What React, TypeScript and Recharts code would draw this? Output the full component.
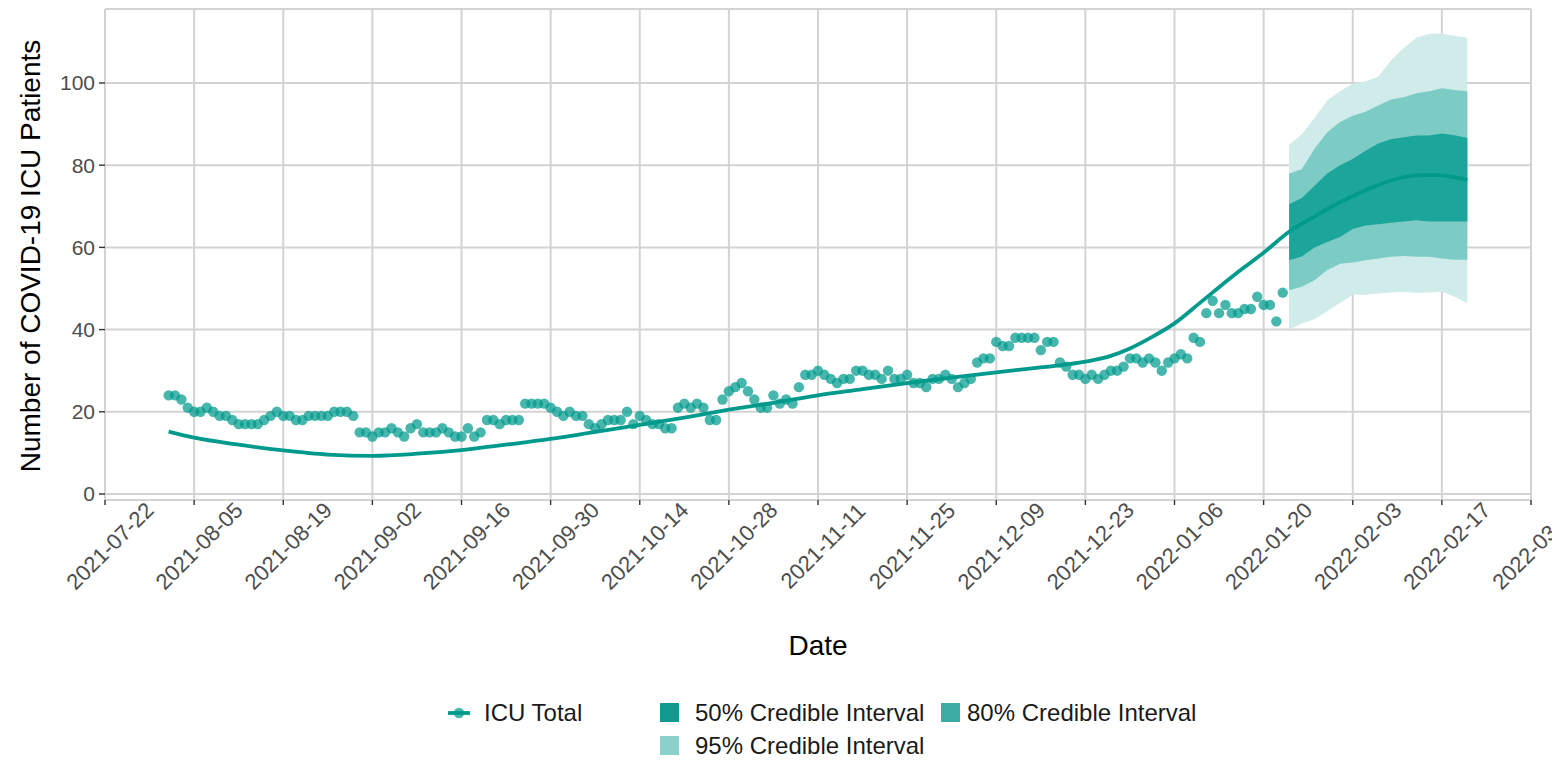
import React from 'react';
import { ComposedChart, Line, Area, Scatter, XAxis, YAxis, CartesianGrid } from 'recharts';

const ORIGIN = '2021-07-22';
const dayOf = (s: string) => Math.round((Date.parse(s) - Date.parse(ORIGIN)) / 86400000);

// x-axis tick labels
const xTickLabels = [
  '2021-07-22', '2021-08-05', '2021-08-19', '2021-09-02', '2021-09-16', '2021-09-30',
  '2021-10-14', '2021-10-28', '2021-11-11', '2021-11-25', '2021-12-09', '2021-12-23',
  '2022-01-06', '2022-01-20', '2022-02-03', '2022-02-17', '2022-03-03',
];
const yTicks = [0, 20, 40, 60, 80, 100];

// Observed daily ICU totals, one value per day starting on icuStartDate
const icuStartDate = '2021-08-01';
const icuTotal = [
  24, 24, 23, 21, 20, 20, 21, 20, 19, 19, 18, 17, 17, 17, 17, 18, 19, 20, 19, 19,
  18, 18, 19, 19, 19, 19, 20, 20, 20, 19,
  15, 15, 14, 15, 15, 16, 15, 14, 16, 17, 15, 15, 15, 16, 15, 14,
  14, 16, 14, 15, 18, 18, 17, 18, 18, 18, 22, 22, 22, 22, 21, 20, 19, 20, 19, 19,
  17, 16, 17, 18, 18, 18, 20, 17, 19, 18, 17, 17, 16, 16, 21, 22, 21, 22, 21, 18,
  18, 23, 25, 26, 27, 25,
  23, 21, 21, 24, 22, 23, 22, 26, 29, 29, 30, 29, 28, 27, 28, 28, 30, 30, 29, 29,
  28, 30, 28, 28, 29, 27, 27, 26, 28, 28, 29, 28, 26, 27, 28, 32, 33, 33, 37, 36,
  36, 38,
  38, 38, 38, 35, 37, 37,
  32, 31, 29, 29, 28, 29, 28, 29, 30, 30, 31, 33, 33, 32, 33, 32, 30, 32, 33, 34,
  33, 38, 37, 44, 47, 44, 46, 44, 44, 45, 45, 48, 46, 46, 42, 49,
];

// Fitted / median curve
const fitDates = [
  '2021-08-01', '2021-08-05', '2021-08-12', '2021-08-19', '2021-08-26', '2021-09-02',
  '2021-09-09', '2021-09-16', '2021-09-23', '2021-09-30', '2021-10-07', '2021-10-14',
  '2021-10-21', '2021-10-28', '2021-11-04', '2021-11-11', '2021-11-18', '2021-11-25',
  '2021-12-02', '2021-12-09', '2021-12-16', '2021-12-23', '2021-12-27', '2021-12-30',
  '2022-01-02', '2022-01-06', '2022-01-10', '2022-01-13', '2022-01-17', '2022-01-20',
  '2022-01-24', '2022-01-28', '2022-01-31', '2022-02-03', '2022-02-07', '2022-02-10',
  '2022-02-13', '2022-02-16', '2022-02-19', '2022-02-21',
];
const fitValues = [
  15.2, 13.7, 12.0, 10.6, 9.6, 9.3, 9.8, 10.7, 12.0, 13.4, 15.1, 16.8, 18.6, 20.5,
  22.2, 24.0, 25.5, 27.0, 28.3, 29.6, 30.8, 32.2, 33.6, 35.4, 37.8, 41.5, 46.5, 50.3,
  55.2, 58.7, 63.8, 67.5, 70.2, 72.5, 75.2, 76.7, 77.5, 77.6, 77.1, 76.4,
];

// Forecast credible intervals
const bandDates = [
  '2022-01-24', '2022-01-26', '2022-01-28', '2022-01-30', '2022-02-01', '2022-02-03',
  '2022-02-05', '2022-02-07', '2022-02-09', '2022-02-11', '2022-02-13', '2022-02-15',
  '2022-02-17', '2022-02-19', '2022-02-21',
];
const ci95Low = [40, 41.5, 42.5, 44.5, 46.5, 48.5, 48.5, 48.8, 49, 49.2, 48.9, 49, 49.2, 48, 46.5];
const ci95High = [85, 87.5, 91.5, 95.8, 98, 99.8, 100.4, 101.5, 105.5, 108.5, 111, 112, 112, 111.5, 111];
const ci80Low = [49.6, 50.4, 52, 54.5, 56, 56.3, 56.9, 57.3, 57.7, 57.9, 57.7, 57.7, 57.3, 57, 57];
const ci80High = [78, 79, 84, 88, 90.5, 92, 93, 94.5, 96, 96.5, 97.5, 98, 98.7, 98.3, 98];
const ci50Low = [56.9, 57.8, 60, 61.3, 62.5, 64.5, 65.3, 65.6, 66, 66.3, 66.6, 66.3, 66.3, 66.3, 66.3];
const ci50High = [70.5, 72, 75, 78, 80, 81.5, 83.5, 85.3, 86.3, 86.8, 87.2, 87.2, 87.7, 87.3, 86.6];

const TEAL = '#009a8c';
const FONT = '"Liberation Sans", Arial, Helvetica, sans-serif';

const icuStart = dayOf(icuStartDate);
const icuData = icuTotal.map((v, i) => ({ day: icuStart + i, icu: v }));

const rows: Record<number, any> = {};
const row = (d: number) => (rows[d] = rows[d] || { day: d });
fitDates.forEach((s, i) => { row(dayOf(s)).fit = fitValues[i]; });
bandDates.forEach((s, i) => {
  const r = row(dayOf(s));
  r.ci95 = [ci95Low[i], ci95High[i]];
  r.ci80 = [ci80Low[i], ci80High[i]];
  r.ci50 = [ci50Low[i], ci50High[i]];
});
const lineData = Object.values(rows).sort((a: any, b: any) => a.day - b.day);
const xTicks = xTickLabels.map(dayOf);

const XTick = (props: any) => {
  const { x, y, payload } = props;
  const label = xTickLabels[xTicks.indexOf(payload.value)] ?? '';
  return (
    <text
      transform={`translate(${x + 5},${y + 41}) rotate(-45)`}
      textAnchor="middle"
      dominantBaseline="central"
      fontSize={22}
      fontFamily={FONT}
      fill="#4D4D4D"
    >
      {label}
    </text>
  );
};

const Dot = (props: any) => {
  const { cx, cy } = props;
  if (cx == null || cy == null) return null;
  return <circle cx={cx} cy={cy} r={5.2} fill={TEAL} fillOpacity={0.72} />;
};

export default function App() {
  return (
    <div style={{ position: 'absolute', left: 0, top: 0, width: 1552, height: 762, background: '#fff' }}>
      <ComposedChart
        width={1552}
        height={762}
        data={lineData}
        margin={{ top: 9, right: 21, left: 0, bottom: 0 }}
      >
        <CartesianGrid stroke="#D3D3D3" strokeWidth={2} />
        <XAxis
          dataKey="day"
          type="number"
          domain={[0, 224]}
          ticks={xTicks}
          allowDataOverflow
          height={262}
          axisLine={false}
          tickLine={{ stroke: '#333333', strokeWidth: 1.4 }}
          tickSize={5}
          tickMargin={0}
          tick={<XTick />}
          interval={0}
        />
        <YAxis
          type="number"
          domain={[-1.46, 118]}
          ticks={yTicks}
          allowDataOverflow
          width={105}
          axisLine={false}
          tickLine={{ stroke: '#333333', strokeWidth: 1.4 }}
          tickSize={6}
          tickMargin={4}
          tick={{ fontSize: 21, fill: '#4D4D4D', fontFamily: FONT }}
        />
        <Area dataKey="ci95" type="linear" fill="#CFECEA" fillOpacity={1} stroke="none" connectNulls isAnimationActive={false} />
        <Area dataKey="ci80" type="linear" fill="#7CCBC5" fillOpacity={1} stroke="none" connectNulls isAnimationActive={false} />
        <Area dataKey="ci50" type="linear" fill="#1CA59B" fillOpacity={1} stroke="none" connectNulls isAnimationActive={false} />
        <Line dataKey="fit" type="monotone" stroke={TEAL} strokeWidth={3.8} dot={false} connectNulls isAnimationActive={false} />
        <Scatter data={icuData} dataKey="icu" shape={<Dot />} isAnimationActive={false} />
      </ComposedChart>
      <svg width={1552} height={762} style={{ position: 'absolute', left: 0, top: 0, pointerEvents: 'none' }}>
        <g fontFamily={FONT}>
          <text x={818} y={655} textAnchor="middle" fontSize={28} fill="#000">Date</text>
          <text transform="translate(40,256) rotate(-90)" textAnchor="middle" fontSize={28} fill="#000">
            Number of COVID-19 ICU Patients
          </text>
          <line x1={448} y1={713} x2={470} y2={713} stroke={TEAL} strokeWidth={3.8} />
          <circle cx={459} cy={713} r={5.2} fill={TEAL} fillOpacity={0.72} />
          <text x={484} y={721} fontSize={24} fill="#1a1a1a">ICU Total</text>
          <rect x={660} y={703} width={19} height={19} fill="#139A90" />
          <text x={695} y={721} fontSize={24} fill="#1a1a1a">50% Credible Interval</text>
          <rect x={941} y={703} width={19} height={19} fill="#3BACA4" />
          <text x={967} y={721} fontSize={24} fill="#1a1a1a">80% Credible Interval</text>
          <rect x={660} y={736} width={19} height={19} fill="#8AD1CC" />
          <text x={695} y={754} fontSize={24} fill="#1a1a1a">95% Credible Interval</text>
        </g>
      </svg>
    </div>
  );
}
